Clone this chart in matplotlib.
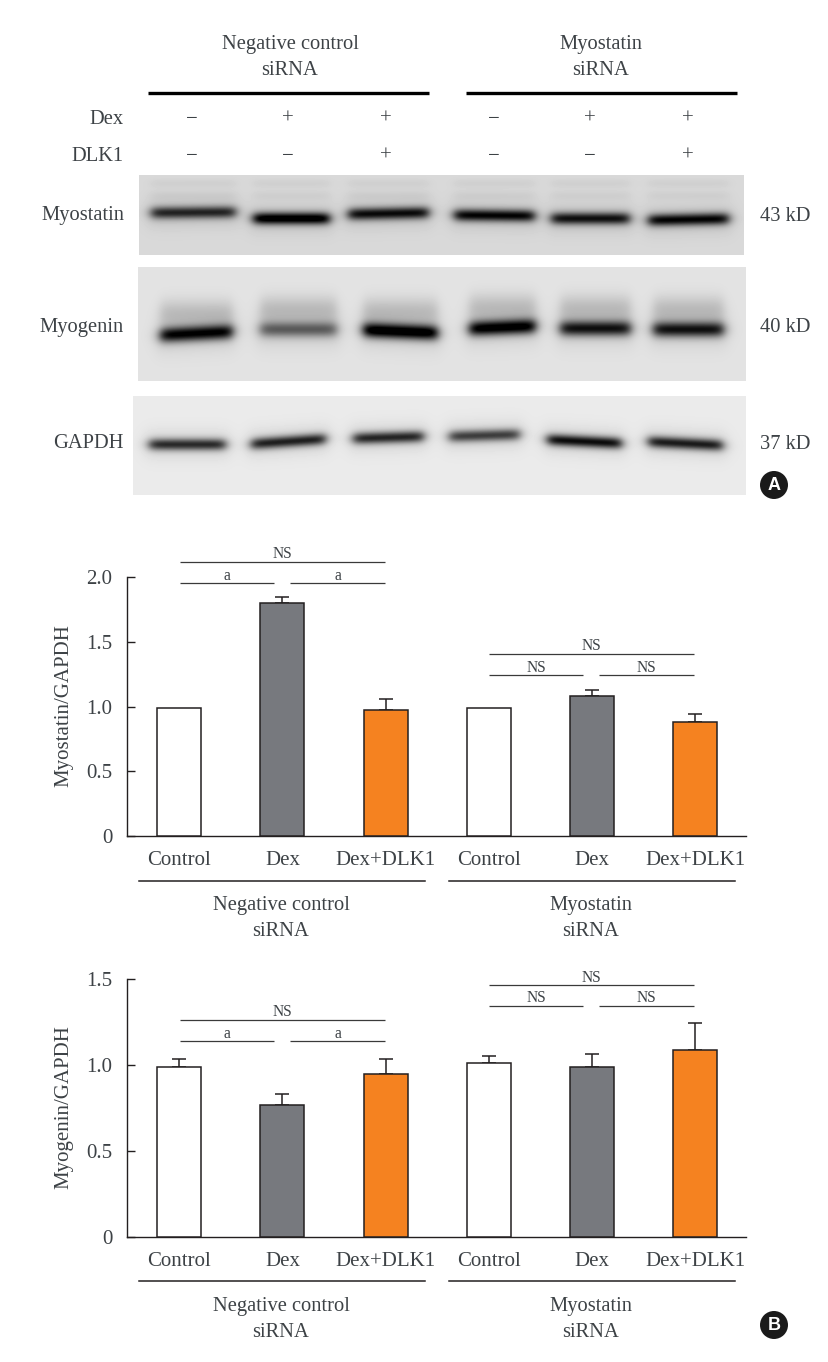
import numpy as np
import matplotlib
matplotlib.use('Agg')
import matplotlib.pyplot as plt
from matplotlib.patches import Circle

plt.rcParams['font.family'] = ['Liberation Serif', 'DejaVu Serif']

W, H = 829, 1362
txt_col = '#3d4246'
line_col = '#231f20'
fs = 14.8

conditions = ['Control', 'Dex', 'Dex+DLK1', 'Control', 'Dex', 'Dex+DLK1']
bar_colors = ['white', '#77797e', '#f58220', 'white', '#77797e', '#f58220']

myostatin = [0.99, 1.80, 0.975, 0.99, 1.08, 0.88]
myostatin_err = [0, 0.045, 0.085, 0, 0.05, 0.06]
myogenin = [0.99, 0.765, 0.95, 1.01, 0.99, 1.09]
myogenin_err = [0.045, 0.065, 0.085, 0.04, 0.075, 0.155]

dex_signs = ['\u2212', '+', '+', '\u2212', '+', '+']
dlk1_signs = ['\u2212', '\u2212', '+', '\u2212', '\u2212', '+']
sign_x = [192, 288, 386, 494, 590, 688]

# blot bands: lane centre, band row, half width, darkness, tilt
myostatin_lanes = [193, 291, 388, 494, 590, 688]
myostatin_rows = [212, 218, 213, 215, 218, 219]
myostatin_half = [42, 38, 40, 40, 39, 40]
myostatin_dark = [0.62, 0.85, 0.72, 0.75, 0.7, 0.75]
myostatin_tilt = [-0.01, 0.0, -0.02, 0.01, 0.0, -0.02]

myogenin_lanes = [196, 298, 400, 502, 595, 688]
myogenin_rows = [333, 329, 331, 327, 328, 329]
myogenin_half = [36, 38, 37, 33, 35, 35]
myogenin_dark = [0.8, 0.42, 0.9, 0.85, 0.72, 0.72]
myogenin_tilt = [-0.05, 0.0, 0.04, -0.04, 0.0, 0.0]

gapdh_lanes = [187, 288, 388, 484, 584, 685]
gapdh_rows = [444, 441, 437, 435, 441, 443]
gapdh_half = [38, 37, 35, 35, 37, 37]
gapdh_dark = [0.66, 0.7, 0.68, 0.58, 0.78, 0.72]
gapdh_tilt = [0.0, -0.07, -0.03, -0.03, 0.05, 0.05]


def blot(x0, x1, y0, y1, bg, lanes, rows, half, dark, tilt, sigma, smear=0.0, faint=0.0):
    xx, yy = np.meshgrid(np.arange(x0, x1), np.arange(y0, y1))
    img = np.full(xx.shape, bg, dtype=float)
    for c, r, h, d, t in zip(lanes, rows, half, dark, tilt):
        window = 0.25 * (1 + np.tanh((xx - c + h) / 6)) * (1 + np.tanh((c + h - xx) / 6))
        centre = r + t * (xx - c)
        img -= d * window * np.exp(-((yy - centre) / sigma) ** 2)
        # soft halo round the band
        halo = 0.25 * (1 + np.tanh((xx - c + h + 4) / 8)) * (1 + np.tanh((c + h + 4 - xx) / 8))
        img -= 0.1 * halo * np.exp(-((yy - centre) / (sigma * 2.4)) ** 2)
        if smear:
            # haze above the band
            img -= smear * window * np.exp(-((yy - r + 20) / 14.0) ** 2)
        if faint:
            # weak extra bands near the top of the blot
            img -= faint * window * (np.exp(-((yy - 183) / 4.5) ** 2) + np.exp(-((yy - 195) / 5.0) ** 2))
    return np.clip(img, 0, 1)


fig = plt.figure(figsize=(W / 100, H / 100), dpi=100, facecolor='white')

# overlay in pixel coordinates for the blots, labels and brackets
ov = fig.add_axes([0, 0, 1, 1])
ov.axis('off')

for args, kw in [
    ((139, 744, 175, 255, 0.85, myostatin_lanes, myostatin_rows, myostatin_half, myostatin_dark, myostatin_tilt, 6.0), {'faint': 0.035}),
    ((138, 746, 267, 381, 0.89, myogenin_lanes, myogenin_rows, myogenin_half, myogenin_dark, myogenin_tilt, 7.5), {'smear': 0.14}),
    ((133, 746, 396, 495, 0.92, gapdh_lanes, gapdh_rows, gapdh_half, gapdh_dark, gapdh_tilt, 5.8), {}),
]:
    ov.imshow(blot(*args, **kw), cmap='gray', vmin=0, vmax=1, aspect='auto',
              extent=(args[0], args[1], args[3], args[2]), interpolation='bilinear')
ov.set_xlim(0, W)
ov.set_ylim(H, 0)


def label(x, y, s, ha='center', size=fs, color=txt_col):
    ov.text(x, y + 2.5, s, ha=ha, va='center', fontsize=size, color=color)


label(290, 42, 'Negative control')
label(290, 68, 'siRNA')
label(601, 42, 'Myostatin')
label(601, 68, 'siRNA')
ov.plot([148, 429], [92.5, 92.5], color='black', lw=2.4, solid_capstyle='butt')
ov.plot([466, 737], [92.5, 92.5], color='black', lw=2.4, solid_capstyle='butt')

label(124, 117, 'Dex', ha='right')
label(124, 154, 'DLK1', ha='right')
for x, a, b in zip(sign_x, dex_signs, dlk1_signs):
    label(x, 117, a, size=15)
    label(x, 154, b, size=15)

label(124, 213, 'Myostatin', ha='right')
label(124, 325, 'Myogenin', ha='right')
label(124, 441, 'GAPDH', ha='right')
label(760, 214, '43 kD', ha='left')
label(760, 325, '40 kD', ha='left')
label(760, 442, '37 kD', ha='left')

for cy, s in [(485, 'A'), (1325, 'B')]:
    ov.add_patch(Circle((774, cy), 14, color='#1a1a1a', lw=0))
    ov.text(774, cy + 0.5, s, ha='center', va='center', color='white', fontsize=13,
            fontweight='bold', family='Liberation Sans')


def bracket(x0, x1, y, s):
    ov.plot([x0, x1], [y, y], color='#3a3a3a', lw=0.9, solid_capstyle='butt')
    ov.text((x0 + x1) / 2, y - 7.5, s, ha='center', va='center', fontsize=11.2, color=txt_col)


for y_top, y_sub, top_s, sub_s, left in [
    (562, 583, 'NS', 'a', 180),
    (654, 675, 'NS', 'NS', 489),
    (1020, 1041, 'NS', 'a', 180),
    (985, 1006, 'NS', 'NS', 489),
]:
    bracket(left, left + 205, y_top, top_s)
    bracket(left, left + 94, y_sub, sub_s)
    bracket(left + 110, left + 205, y_sub, sub_s)

for y_line, y_a, y_b in [(881, 903, 929), (1281, 1304, 1330)]:
    ov.plot([139, 425], [y_line, y_line], color=line_col, lw=1.1)
    ov.plot([449, 735], [y_line, y_line], color=line_col, lw=1.1)
    label(281, y_a, 'Negative control')
    label(281, y_b, 'siRNA')
    label(591, y_a, 'Myostatin')
    label(591, y_b, 'siRNA')


def bar_panel(y_top, y_bot, ymax, ticks, ticklabels, vals, errs, ylab):
    ax = fig.add_axes([127.5 / W, 1 - y_bot / H, (746 - 127.5) / W, (y_bot - y_top) / H])
    ax.patch.set_alpha(0)
    xs = np.arange(len(vals))
    ax.bar(xs, vals, width=0.425, color=bar_colors, edgecolor=line_col, linewidth=1.1, zorder=3)
    for x, v, e in zip(xs, vals, errs):
        if e > 0:
            ax.errorbar(x, v, yerr=[[0], [e]], color=line_col, elinewidth=1.1, capsize=5.2,
                        capthick=1.1, zorder=2)
    ax.set_xlim(-0.5, 5.49)
    ax.set_ylim(0, ymax)
    ax.set_yticks(ticks)
    ax.set_yticklabels(ticklabels, fontsize=15, color=txt_col)
    ax.set_xticks(xs)
    ax.set_xticklabels(conditions, fontsize=15, color=txt_col)
    ax.tick_params(axis='x', length=0, pad=11)
    ax.tick_params(axis='y', direction='in', length=5.5, width=1.0, color=line_col, pad=11)
    for side in ['top', 'right']:
        ax.spines[side].set_visible(False)
    for side in ['left', 'bottom']:
        ax.spines[side].set_linewidth(1.0)
        ax.spines[side].set_color(line_col)
    ov.text(64, (y_top + y_bot) / 2 - 0.5, ylab, rotation=90, ha='center', va='center',
            fontsize=15, color=txt_col)
    return ax


bar_panel(577, 836, 2.0, [0, 0.5, 1.0, 1.5, 2.0], ['0', '0.5', '1.0', '1.5', '2.0'],
          myostatin, myostatin_err, 'Myostatin/GAPDH')
bar_panel(979, 1237, 1.5, [0, 0.5, 1.0, 1.5], ['0', '0.5', '1.0', '1.5'],
          myogenin, myogenin_err, 'Myogenin/GAPDH')

fig.savefig('out.png', dpi=100)
plt.close(fig)
